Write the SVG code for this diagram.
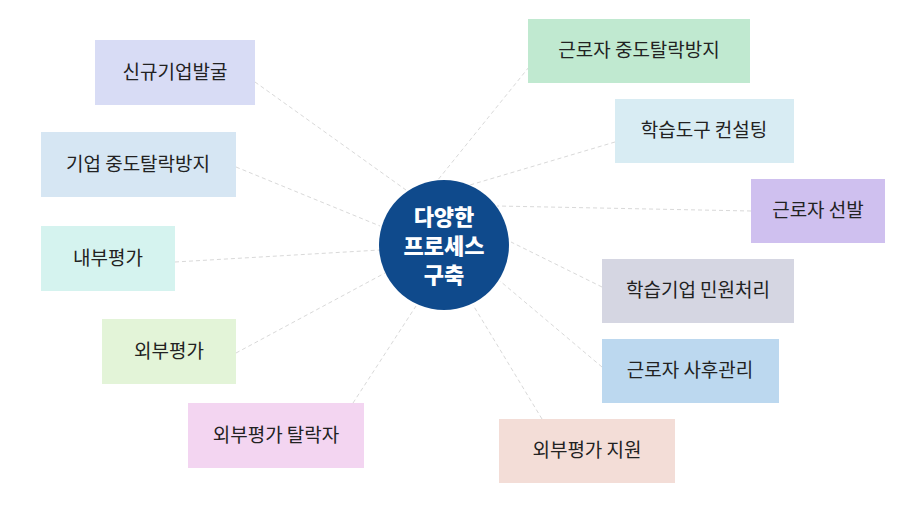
<svg xmlns="http://www.w3.org/2000/svg" width="898" height="506" viewBox="0 0 898 506">
<style>
.c{stroke:#d9d9d9;stroke-width:1;stroke-dasharray:4 3;fill:none}
.t{font-family:"Noto Sans CJK KR","Noto Sans",sans-serif;font-size:19px;fill:#222;text-anchor:middle}
.h{font-family:"Noto Sans CJK KR","Noto Sans",sans-serif;font-size:22px;font-weight:900;fill:#fff;text-anchor:middle}
</style>
<rect width="898" height="506" fill="#fff"/>
<g id="connectors">
<line class="c" x1="255" y1="82" x2="406" y2="190"/>
<line class="c" x1="236" y1="167" x2="380" y2="226"/>
<line class="c" x1="175" y1="262" x2="380" y2="250"/>
<line class="c" x1="236" y1="353" x2="385" y2="273"/>
<line class="c" x1="353" y1="403" x2="416" y2="306"/>
<line class="c" x1="542" y1="419" x2="473" y2="305"/>
<line class="c" x1="602" y1="367" x2="500" y2="281"/>
<line class="c" x1="602" y1="287" x2="511" y2="242"/>
<line class="c" x1="751" y1="211" x2="497" y2="206"/>
<line class="c" x1="615" y1="142" x2="470" y2="185"/>
<line class="c" x1="529" y1="67" x2="437" y2="181"/>
</g>
<g id="center">
<circle cx="444" cy="245" r="65" fill="#0f4a8c"/>
<text class="h" x="444" y="225">다양한</text>
<text class="h" x="444" y="254">프로세스</text>
<text class="h" x="444" y="283">구축</text>
</g>
<g id="n1"><rect x="95" y="40" width="160" height="65" fill="#d8dcf5"/><text class="t" x="175" y="79">신규기업발굴</text></g>
<g id="n2"><rect x="41" y="132" width="195" height="65" fill="#d6e6f3"/><text class="t" x="138" y="171">기업 중도탈락방지</text></g>
<g id="n3"><rect x="41" y="226" width="134" height="65" fill="#d5f3ef"/><text class="t" x="108" y="265">내부평가</text></g>
<g id="n4"><rect x="102" y="319" width="134" height="65" fill="#e3f4d8"/><text class="t" x="169" y="358">외부평가</text></g>
<g id="n5"><rect x="188" y="403" width="176" height="65" fill="#f3d5f1"/><text class="t" x="276" y="442">외부평가 탈락자</text></g>
<g id="n6"><rect x="499" y="419" width="176" height="64" fill="#f3ddd7"/><text class="t" x="587" y="457">외부평가 지원</text></g>
<g id="n7"><rect x="602" y="339" width="177" height="64" fill="#bcd8ef"/><text class="t" x="690" y="377">근로자 사후관리</text></g>
<g id="n8"><rect x="602" y="259" width="192" height="64" fill="#d5d6e2"/><text class="t" x="698" y="297">학습기업 민원처리</text></g>
<g id="n9"><rect x="751" y="179" width="134" height="64" fill="#cfc0ef"/><text class="t" x="818" y="217">근로자 선발</text></g>
<g id="n10"><rect x="615" y="99" width="179" height="64" fill="#d8ecf3"/><text class="t" x="704" y="137">학습도구 컨설팅</text></g>
<g id="n11"><rect x="528" y="19" width="222" height="64" fill="#c0e9d0"/><text class="t" x="639" y="57">근로자 중도탈락방지</text></g>
</svg>
